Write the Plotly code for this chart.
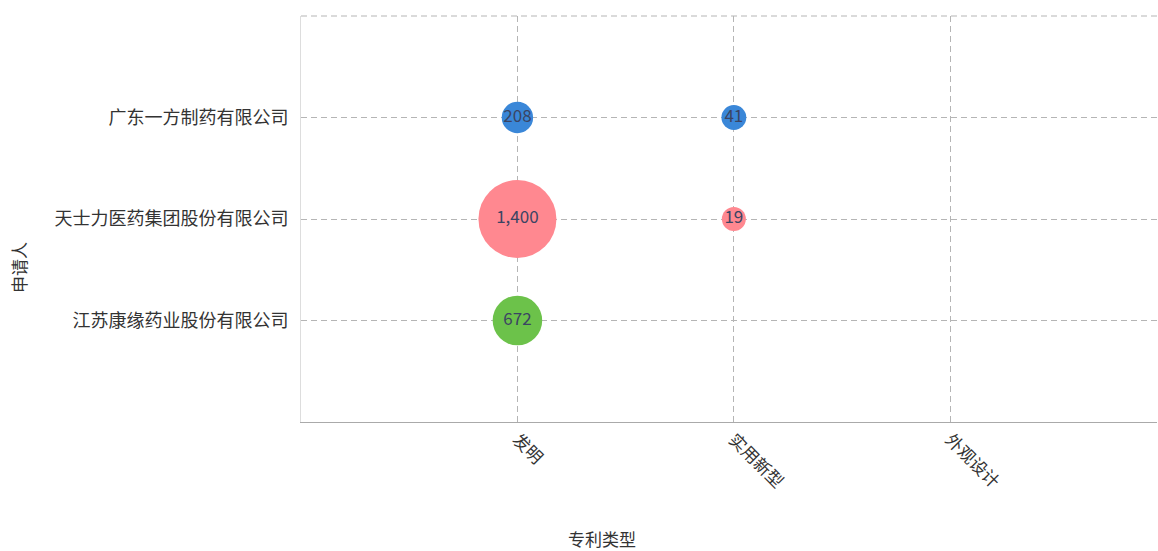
import plotly.graph_objects as go

patent_types = ["发明", "实用新型", "外观设计"]
applicants = ["江苏康缘药业股份有限公司", "天士力医药集团股份有限公司", "广东一方制药有限公司"]

series = [
    {"name": "广东一方制药有限公司", "types": ["发明", "实用新型"], "values": [208, 41], "color": "#3a87d8"},
    {"name": "天士力医药集团股份有限公司", "types": ["发明", "实用新型"], "values": [1400, 19], "color": "#ff8890"},
    {"name": "江苏康缘药业股份有限公司", "types": ["发明"], "values": [672], "color": "#6cc24a"},
]

all_vals = [v for s in series for v in s["values"]]
vmin, vmax = min(all_vals), max(all_vals)
smin, smax = 24, 78

def size_of(v):
    return smin + (smax - smin) * (v - vmin) / (vmax - vmin)

FONT = "Noto Sans CJK SC, Microsoft YaHei, sans-serif"

fig = go.Figure()
for s in series:
    fig.add_trace(go.Scatter(
        x=s["types"], y=[s["name"]] * len(s["values"]),
        mode="markers+text",
        marker=dict(size=[size_of(v) for v in s["values"]], color=s["color"], opacity=1,
                    line=dict(width=0)),
        text=[f"{v:,}" for v in s["values"]],
        textposition="middle center",
        textfont=dict(size=17, color="#3b4463", family=FONT),
        name=s["name"], showlegend=False, cliponaxis=False,
    ))

grid = dict(showgrid=True, gridcolor="#b5b5b5", griddash="6px,4px", gridwidth=1.2)
fig.update_xaxes(type="category", categoryorder="array", categoryarray=patent_types,
                 range=[-1, 2.955], showline=True, linecolor="#aaaaaa", linewidth=1,
                 tickangle=45, tickfont=dict(size=17, color="#333333", family=FONT),
                 ticks="", zeroline=False, **grid)
fig.update_yaxes(type="category", categoryorder="array", categoryarray=applicants,
                 range=[-1, 3], showline=True, linecolor="#dddddd", linewidth=1,
                 tickfont=dict(size=18, color="#333333", family=FONT),
                 ticks="outside", ticklen=8, tickcolor="rgba(0,0,0,0)",
                 zeroline=False, **grid)

fig.add_shape(type="line", xref="paper", yref="paper", x0=0, x1=1, y0=1, y1=1,
              line=dict(color="#b5b5b5", width=1.2, dash="6px,4px"))

fig.add_annotation(text="专利类型", xref="paper", yref="paper", x=(602 - 301) / 856, y=-(538 - 422) / 406,
                   showarrow=False, font=dict(size=17, color="#333333", family=FONT),
                   xanchor="center", yanchor="middle")
fig.add_annotation(text="申请人", xref="paper", yref="paper", x=-(301 - 18) / 856, y=(422 - 268) / 406,
                   showarrow=False, textangle=-90, font=dict(size=17, color="#333333", family=FONT),
                   xanchor="center", yanchor="middle")

fig.update_layout(width=1158, height=551, margin=dict(l=301, r=1, t=16, b=129),
                  plot_bgcolor="white", paper_bgcolor="white",
                  font=dict(family=FONT, color="#333333"))

fig.write_html("out.html", config={"displayModeBar": False},
               post_script="document.body.style.margin='0';")
